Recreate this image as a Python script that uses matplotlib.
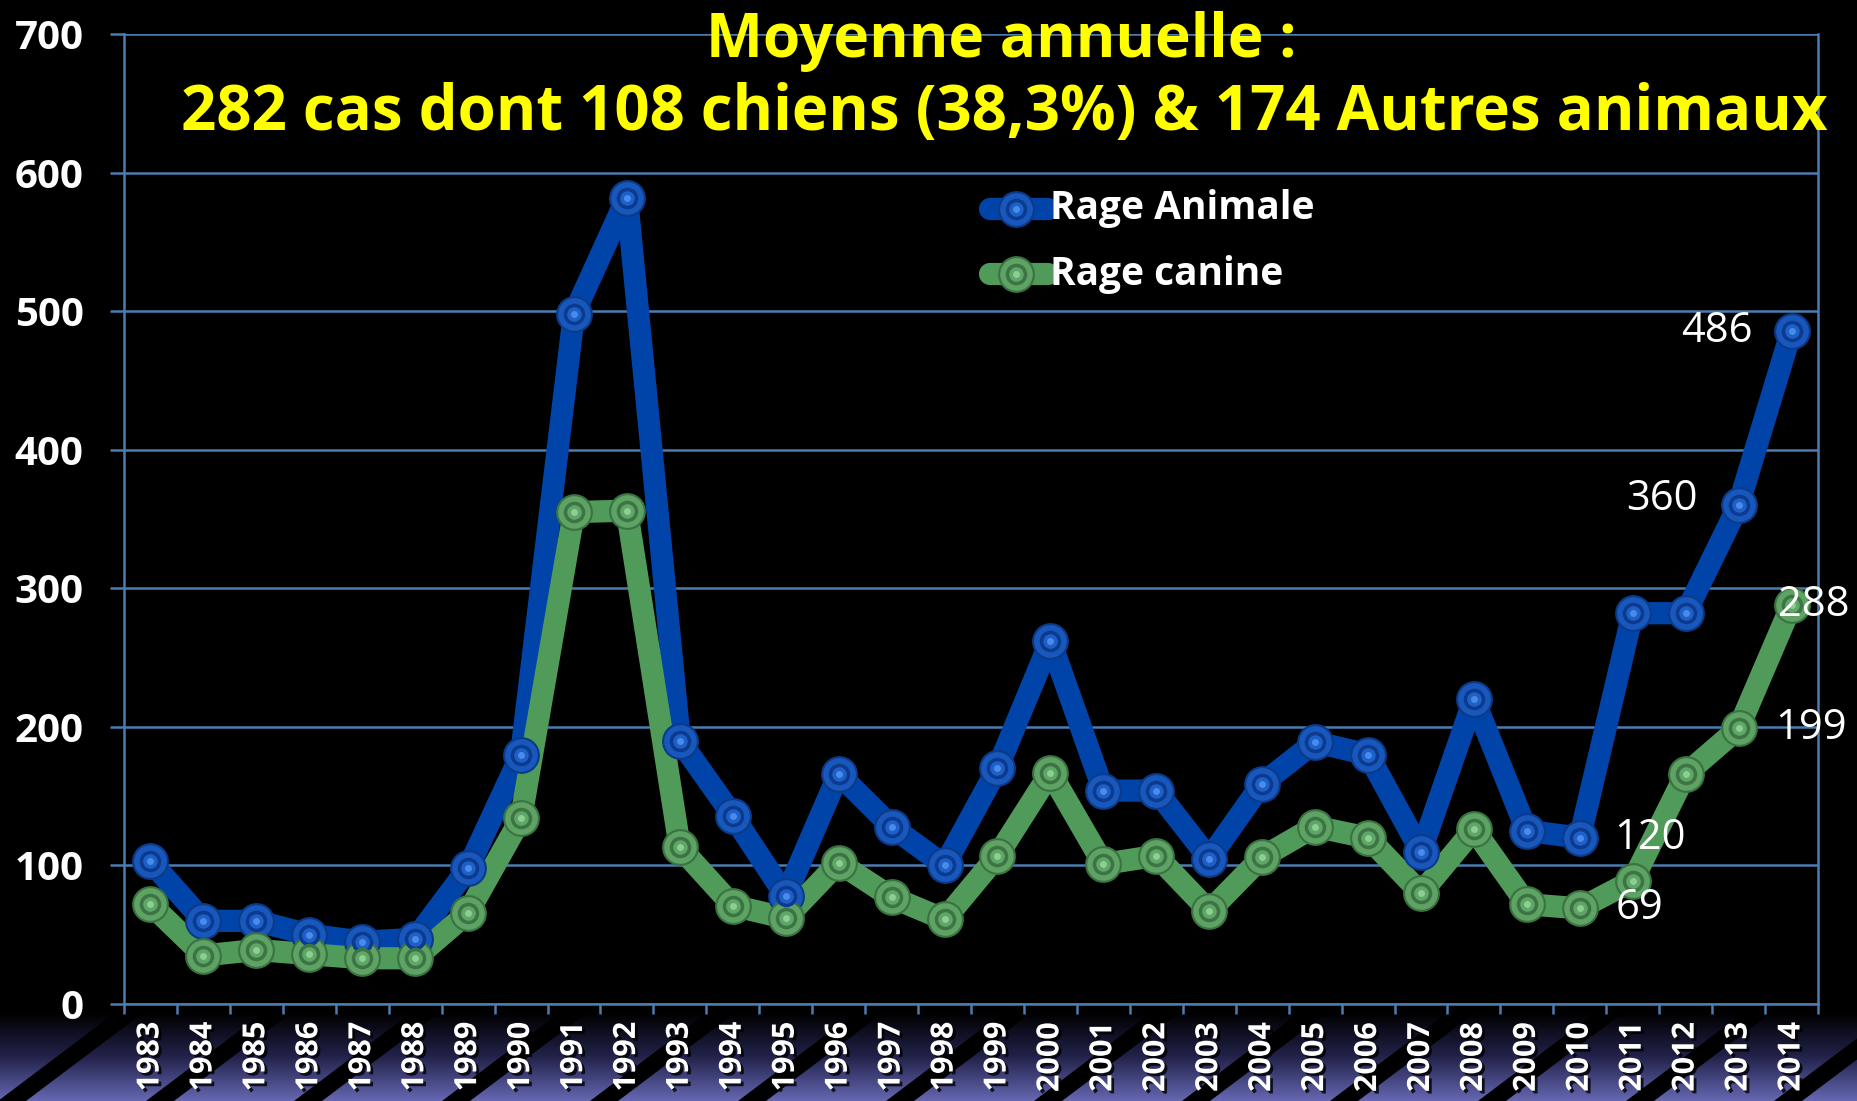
import numpy as np
import matplotlib
matplotlib.use("Agg")
from matplotlib import pyplot as plt
from matplotlib import patheffects
from matplotlib.colors import LinearSegmentedColormap
from matplotlib.patches import Polygon

plt.rcParams['font.family'] = ['Open Sans', 'DejaVu Sans']

# data
years = [str(y) for y in range(1983, 2015)]
rage_animale = [103, 60, 60, 50, 45, 47, 98, 180, 498, 582, 190, 136, 78, 166, 128, 100,
                170, 262, 154, 154, 105, 159, 189, 180, 110, 220, 125, 120, 282, 282, 360, 486]
rage_canine = [72, 35, 39, 36, 33, 33, 66, 134, 355, 356, 113, 71, 62, 102, 77, 61,
               107, 167, 101, 107, 67, 106, 128, 120, 80, 126, 72, 69, 89, 166, 199, 288]
yticks = [0, 100, 200, 300, 400, 500, 600, 700]
series_names = ['Rage Animale', 'Rage canine']

# labelled points: year index -> pixel offset of the label
labels_animale = {27: (70, 0), 30: (-77, 6), 31: (-75, 0)}
labels_canine = {27: (60, 0), 30: (72, 0), 31: (22, 0)}

W, H = 1857, 1101
fig = plt.figure(figsize=(W / 100, H / 100), dpi=100, facecolor='black')

# bottom band with gradient and diagonal stripes
bh = 89
bax = fig.add_axes([0, 0, 1, bh / H], zorder=0)
bax.set_axis_off()
cmap = LinearSegmentedColormap.from_list('band', ['#000000', '#22224a', '#6567b2'])
grad = np.linspace(0, 1, 100).reshape(-1, 1)
bax.imshow(grad, cmap=cmap, extent=[0, W, 0, bh], aspect='auto', origin='upper')
for x0 in np.arange(-150, W + 150, 148):
    bax.add_patch(Polygon([(x0, 0), (x0 + 28, 0), (x0 + 28 + 118, bh), (x0 + 118, bh)],
                          closed=True, color='black', lw=0))
bax.set_xlim(0, W)
bax.set_ylim(0, bh)

ax = fig.add_axes([124 / W, 1 - 1004 / H, (1818 - 124) / W, (1004 - 34) / H], zorder=1)
ax.set_facecolor('black')
gridc = '#4a7db0'

x = np.arange(len(years))
LW, MS = 16, 25

def draw_markers(axx, xs, vals, c):
    line_c, face, edge, inner, inner_e, dot = c
    axx.plot(xs, vals, ls='none', marker='o', ms=MS, mfc=face, mec=edge, mew=1.5, zorder=4)
    axx.plot(xs, vals, ls='none', marker='o', ms=13, mfc=inner, mec=inner_e, mew=2.5, zorder=5)
    axx.plot(xs, vals, ls='none', marker='o', ms=5, mfc=dot, mec='none', zorder=6)

def draw_series(xs, vals, c):
    ax.plot(xs, vals, color=c[0], lw=LW, solid_joinstyle='round', solid_capstyle='butt',
            zorder=3)
    draw_markers(ax, xs, vals, c)

blue = ('#0044aa', '#1858bc', '#0c3a88', '#1d60c8', '#0b3a8e', '#4a8ae8')
green = ('#509a5a', '#5ea264', '#3a7242', '#60a668', '#3c7444', '#8ccf90')
draw_series(x, rage_animale, blue)
draw_series(x, rage_canine, green)

ax.set_xlim(-0.5, len(years) - 0.5)
ax.set_ylim(0, 700)
ax.set_yticks(yticks)
ax.yaxis.grid(True, color=gridc, lw=1.8)
ax.set_axisbelow(True)
ax.tick_params(axis='y', colors=gridc, length=10, width=1.8, pad=19, labelsize=29,
               labelcolor='white')
for t in ax.get_yticklabels():
    t.set_fontweight('bold')

ax.set_xticks(np.arange(-0.5, len(years), 1))
ax.set_xticklabels([])
ax.tick_params(axis='x', which='major', colors=gridc, length=7, width=1.8)
ax.set_xticks(x, minor=True)
ax.set_xticklabels(years, minor=True, rotation=90, fontsize=22, fontweight='bold',
                   color='white', va='top')
ax.tick_params(axis='x', which='minor', length=0, pad=13)
shadow = [patheffects.withSimplePatchShadow(offset=(2, -2), shadow_rgbFace='black', alpha=0.8)]
for t in ax.get_xticklabels(minor=True):
    t.set_path_effects(shadow)

for side in ['left', 'bottom', 'right']:
    ax.spines[side].set_color(gridc)
    ax.spines[side].set_linewidth(1.8)
ax.spines['top'].set_visible(False)

for i, (dx, dy) in labels_animale.items():
    ax.annotate(str(rage_animale[i]), (x[i], rage_animale[i]), xytext=(dx, dy),
                textcoords='offset pixels', ha='center', va='center', color='white', fontsize=30,
                zorder=7)
for i, (dx, dy) in labels_canine.items():
    ax.annotate(str(rage_canine[i]), (x[i], rage_canine[i]), xytext=(dx, dy),
                textcoords='offset pixels', ha='center', va='center', color='white', fontsize=30,
                zorder=7)

# legend drawn by hand in figure pixels
lax = fig.add_axes([0, 0, 1, 1], zorder=2)
lax.set_axis_off()
lax.set_xlim(0, W)
lax.set_ylim(H, 0)
for row_y, c, name in [(209, blue, series_names[0]), (274, green, series_names[1])]:
    lax.plot([990, 1048], [row_y, row_y], color=c[0], lw=LW, solid_capstyle='round')
    draw_markers(lax, [1016], [row_y], c)
    lax.text(1050, row_y, name, color='white', fontsize=28, fontweight='bold',
             ha='left', va='center')

# title
fig.text(1001 / W, 1 - 41 / H, 'Moyenne annuelle :', color='#ffff00', fontsize=43.5,
         fontweight='bold', ha='center', va='center')
fig.text(1004 / W, 1 - 114 / H, '282 cas dont 108 chiens (38,3%) & 174 Autres animaux',
         color='#ffff00', fontsize=44.5, fontweight='bold', ha='center', va='center')

fig.savefig('out.png', dpi=100, facecolor='black')
